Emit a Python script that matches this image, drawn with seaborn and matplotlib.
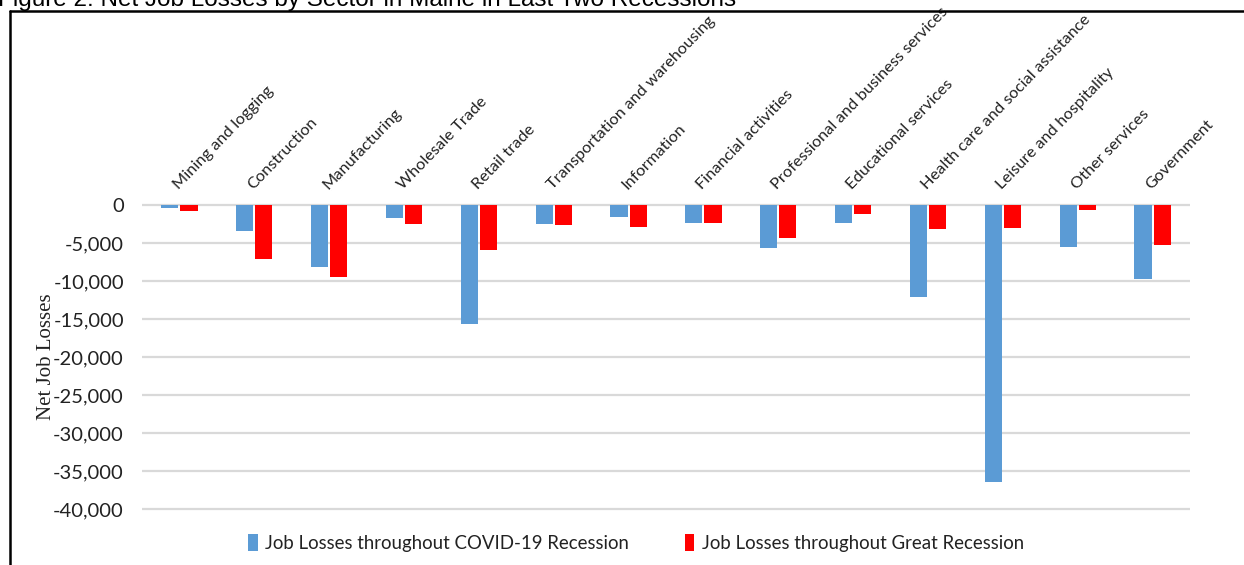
import matplotlib
matplotlib.use("Agg")
import matplotlib.pyplot as plt
import matplotlib.transforms as mtransforms
from matplotlib.lines import Line2D
import pandas as pd
import seaborn as sns

# Sectors and net job losses in each recession
sectors = [
    "Mining and logging", "Construction", "Manufacturing", "Wholesale Trade",
    "Retail trade", "Transportation and warehousing", "Information",
    "Financial activities", "Professional and business services",
    "Educational services", "Health care and social assistance",
    "Leisure and hospitality", "Other services", "Government",
]
covid_losses = [-400, -3450, -8100, -1700, -15700, -2450, -1580, -2370,
                -5600, -2370, -12100, -36500, -5530, -9700]
great_losses = [-820, -7150, -9450, -2450, -5950, -2600, -2900, -2330,
                -4300, -1230, -3100, -3030, -620, -5220]
series_names = ["Job Losses throughout COVID-19 Recession",
                "Job Losses throughout Great Recession"]
y_ticks = [0, -5000, -10000, -15000, -20000, -25000, -30000, -35000, -40000]

df = pd.DataFrame({
    "Sector": sectors * 2,
    "Losses": covid_losses + great_losses,
    "Recession": [series_names[0]] * len(sectors) + [series_names[1]] * len(sectors),
})

sns.set_theme(style="white")
plt.rcParams["font.family"] = ["Lato", "DejaVu Sans"]

W, H = 1244, 565
fig = plt.figure(figsize=(W / 100, H / 100), dpi=100)

# Plot area in pixel terms
left_px, right_px = 142, 1190
ymin, ymax = -40300, 300
zero_px, bottom40_px = 205, 509
ppu = (bottom40_px - zero_px) / 40000
top_px = zero_px - ymax * ppu
bot_px = bottom40_px + (-40000 - ymin) * ppu
ax = fig.add_axes([left_px / W, 1 - bot_px / H,
                   (right_px - left_px) / W, (bot_px - top_px) / H])

sns.barplot(data=df, x="Sector", y="Losses", hue="Recession",
            hue_order=series_names, order=sectors,
            palette=["#5B9BD5", "#FF0000"], saturation=1, width=0.51, gap=0.1,
            edgecolor="none", ax=ax)

ax.set_xlim(-0.5, len(sectors) - 0.5)
ax.set_ylim(ymin, ymax)
ax.set_yticks(y_ticks)
ax.set_yticklabels([f"{v:,}" for v in y_ticks], fontsize=14.5, color="#222222")
ax.tick_params(axis="y", length=0, pad=13)
ax.set_xticks([])
ax.set_xlabel("")
ax.set_ylabel("Net Job Losses", family=["Liberation Serif"], fontsize=15,
              color="#222222")
ax.yaxis.set_label_coords(-(left_px - 56) / (right_px - left_px), 0.5)
for s in ax.spines.values():
    s.set_visible(False)
ax.yaxis.grid(True, color="#d9d9d9", linewidth=1.6)
ax.set_axisbelow(True)

# Rotated sector names above the zero line
lab_tr = mtransforms.offset_copy(ax.transData, fig=fig, x=-1, y=15, units="dots")
for i, name in enumerate(sectors):
    ax.text(i, 0, name, transform=lab_tr, rotation=46, rotation_mode="anchor",
            ha="left", va="baseline", fontsize=11.8, color="#222222")

# Legend at the bottom
handles, labels = ax.get_legend_handles_labels()
ax.get_legend().remove()
fig.legend(handles, labels, loc="center", bbox_to_anchor=(636 / W, 1 - 543 / H),
           ncol=2, frameon=False, fontsize=13.4, handlelength=0.5,
           handleheight=1.0, handletextpad=0.4, columnspacing=3.0,
           labelcolor="#222222")

# Caption line along the top edge and the frame
fig.text(-2 / W, 1 - 6 / H,
         "Figure 2: Net Job Losses by Sector in Maine in Last Two Recessions",
         family=["Liberation Sans"], fontsize=17.5, ha="left", va="baseline",
         color="black")
fig.add_artist(Line2D([10 / W, 1], [1 - 11 / H, 1 - 11 / H],
                      transform=fig.transFigure, color="black", linewidth=1.8))
fig.add_artist(Line2D([10 / W, 10 / W], [1 - 11 / H, 0],
                      transform=fig.transFigure, color="black", linewidth=1.8))

fig.savefig("out.png", dpi=100, facecolor="white")
